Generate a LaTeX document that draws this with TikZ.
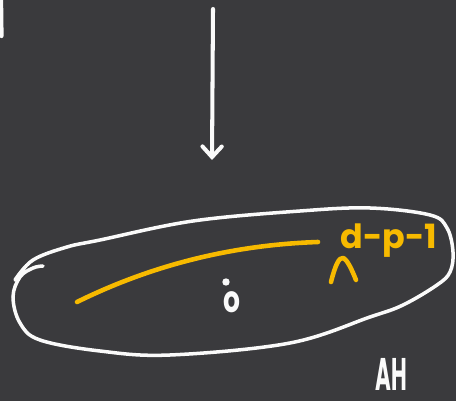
\documentclass[tikz,border=0pt]{standalone}
\usepackage{fontspec}
\setmainfont{Poppins}
\usetikzlibrary{arrows.meta}
\definecolor{board}{RGB}{58,58,61}
\definecolor{chalkW}{RGB}{250,250,250}
\definecolor{chalkY}{RGB}{247,186,0}

\begin{document}
\begin{tikzpicture}[x=0.02cm, y=-0.02cm, line cap=round, line join=round,
  chalk/.style={draw=chalkW, line width=2pt},
  ychalk/.style={draw=chalkY, line width=2.6pt}]
% ====== board ======
\useasboundingbox (0,0) rectangle (456,401);
\clip (0,0) rectangle (456,401);
\fill[board] (0,0) rectangle (456,401);
% leftover stroke at the top-left edge
\draw[chalk, line width=2.4pt] (1,-3) -- (1.5,36);
% ====== arrow from above ======
\coordinate (arrTop) at (213,9);
\coordinate (arrTip) at (212,160);
\draw[chalk, line width=2.3pt, -{Straight Barb[length=6pt, width=11pt, line cap=round]}] (arrTop) -- (arrTip);
% ====== the loop (hand drawn, starts with a small hook) ======
\draw[chalk] plot[smooth, tension=0.6] coordinates {(43,266) (33,268) (20,277) (13,297)
  (20,323) (40,340) (100,351) (170,355) (290,343) (370,317) (403,305) (437,285)
  (450,272) (453,252) (447,228) (430,215) (370,208) (300,211) (193,221) (100,240)
  (67,247) (33,260) (15,280)};
% --- yellow stroke inside ---
\coordinate (yStart) at (77,302);
\coordinate (yEnd) at (318,242);
\draw[ychalk] (yStart) .. controls (150,266) and (230,245) .. (yEnd);
\node[text=chalkY, font=\fontsize{19}{22}\selectfont\bfseries, anchor=base west, inner sep=0pt] (dpone) at (340,249) {d-p-1};
% caret under the label
\draw[ychalk] (331,282) .. controls (335,266) and (339,257) .. (343,258) .. controls (347,259) and (352,270) .. (356,280);
% --- point with a dot ---
\fill[chalkW] (226,282) circle (2.1pt);
\node[text=chalkW, font=\fontsize{21}{22}\selectfont\bfseries, xscale=0.72, inner sep=0pt] (oDot) at (232,302) {o};
% ====== signature ======
\node[text=chalkW, font=\fontsize{26}{28}\selectfont\bfseries, xscale=0.47, anchor=base, inner sep=0pt] (sign) at (391,391) {AH};
\end{tikzpicture}
\end{document}
